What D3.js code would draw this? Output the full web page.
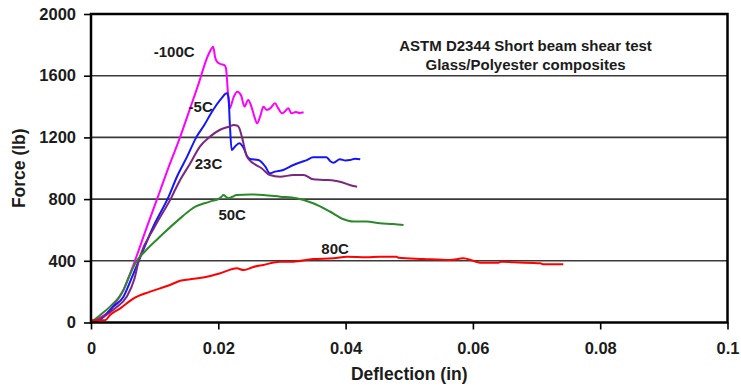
<!DOCTYPE html>
<html>
<head>
<meta charset="utf-8">
<script src="https://cdn.jsdelivr.net/npm/d3@7"></script>
<style>
  html, body { margin: 0; padding: 0; background: #fff; }
  svg { display: block; }
  text { font-family: "Liberation Sans", Arial, sans-serif; font-weight: bold; fill: #1c1c1c; }
</style>
</head>
<body>
<svg id="chart" width="741" height="388"></svg>
<script>
// Force–deflection curves, ASTM D2344 short beam shear, glass/polyester
// Each series: [deflection (in), force (lb)]
const curveM100 = [
  [0,0],[0.0012,27],[0.0025,60],[0.0038,124],[0.0051,211],[0.0069,400],[0.0087,610],
  [0.0109,859],[0.0124,1030],[0.0139,1190],[0.0155,1380],[0.0170,1560],[0.0180,1690],
  [0.0186,1750],[0.0192,1788],[0.0195,1720],[0.0199,1685],[0.0204,1675],[0.0209,1670],
  [0.0212,1650],[0.0215,1500],[0.0218,1389],[0.0224,1460],[0.0230,1496],[0.0236,1470],
  [0.0241,1400],[0.0247,1442],[0.0252,1400],[0.0257,1330],[0.0261,1291],[0.0266,1340],
  [0.0271,1399],[0.0276,1378],[0.0282,1390],[0.0289,1421],[0.0294,1390],[0.0300,1356],
  [0.0305,1370],[0.0310,1389],[0.0315,1356],[0.0322,1365],[0.0328,1358],[0.0334,1363]
];
const curveM5 = [
  [0,0],[0.0015,20],[0.0035,103],[0.0051,167],[0.0062,270],[0.0075,400],[0.0100,640],
  [0.0122,816],[0.0135,945],[0.0151,1075],[0.0166,1205],[0.0178,1280],[0.0187,1345],
  [0.0197,1410],[0.0205,1453],[0.0213,1486],[0.0216,1460],[0.0218,1300],[0.0221,1118],
  [0.0226,1140],[0.0233,1162],[0.0240,1129],[0.0245,1080],[0.0250,1060],[0.0263,1053],
  [0.0274,1010],[0.0281,967],[0.0289,978],[0.0302,989],[0.0318,1021],[0.0330,1040],
  [0.0339,1053],[0.0349,1071],[0.0370,1071],[0.0376,1045],[0.0381,1036],[0.0391,1058],
  [0.0400,1050],[0.0407,1053],[0.0415,1062],[0.0423,1058]
];
const curve23 = [
  [0,0],[0.0020,38],[0.0038,92],[0.0056,167],[0.0068,280],[0.0075,400],[0.0100,620],
  [0.0127,816],[0.0132,859],[0.0140,924],[0.0156,1032],[0.0171,1140],[0.0187,1205],
  [0.0202,1248],[0.0218,1271],[0.0224,1280],[0.0230,1276],[0.0233,1260],[0.0237,1205],
  [0.0245,1075],[0.0255,1032],[0.0268,1000],[0.0281,956],[0.0297,945],[0.0318,956],
  [0.0334,956],[0.0349,928],[0.0370,924],[0.0391,913],[0.0412,885],[0.0418,880]
];
const curve50 = [
  [0,0],[0.00145,49],[0.0030,103],[0.0051,211],[0.0060,300],[0.0072,400],[0.0085,462],
  [0.0103,535],[0.0114,578],[0.0140,675],[0.0156,729],[0.0164,751],[0.0180,775],
  [0.0192,790],[0.0200,800],[0.0205,815],[0.0208,827],[0.0212,815],[0.0216,805],
  [0.0222,815],[0.0229,827],[0.0250,830],[0.0271,827],[0.0297,816],[0.0323,805],
  [0.0349,773],[0.0376,718],[0.0397,669],[0.0412,654],[0.0433,654],[0.0454,643],
  [0.0475,639],[0.0491,632]
];
const curve80 = [
  [0,15],[0.0022,15],[0.0030,49],[0.0046,92],[0.0067,157],[0.0093,200],[0.0124,243],
  [0.0140,271],[0.0156,280],[0.0182,297],[0.0203,319],[0.0229,351],[0.0240,340],
  [0.0255,360],[0.0271,373],[0.0297,394],[0.0318,394],[0.0349,412],[0.0381,416],
  [0.0402,427],[0.0433,423],[0.0454,427],[0.0480,427],[0.0483,420],[0.0522,412],
  [0.0564,405],[0.0585,416],[0.0600,400],[0.0611,388],[0.0640,388],[0.0645,394],
  [0.0664,390],[0.0706,384],[0.0711,377],[0.0742,377]
];

const seriesNames  = ["-100C", "-5C", "23C", "50C", "80C"];
const seriesData   = [curveM100, curveM5, curve23, curve50, curve80];
const seriesColors = ["#ff00ff", "#1414ff", "#7b267f", "#2a8a2a", "#ff0000"];
// Label anchor points [deflection, force]
const labelPos     = [[0.01307,1756],[0.01723,1399],[0.01846,1032],[0.02218,701],[0.03835,476]];

const xTicks = [0, 0.02, 0.04, 0.06, 0.08, 0.1];
const xTickLabels = ["0", "0.02", "0.04", "0.06", "0.08", "0.1"];
const yTicks = [0, 400, 800, 1200, 1600, 2000];
const yTickLabels = ["0", "400", "800", "1200", "1600", "2000"];
const yGrid  = [400, 800, 1200, 1600];
const titleLines = ["ASTM D2344 Short beam shear test", "Glass/Polyester composites"];

const svg = d3.select("#chart");
const plot = { left: 91, right: 727.5, top: 14, bottom: 322.5 };

const x = d3.scaleLinear().domain([0, 0.1]).range([plot.left, plot.right]);
const y = d3.scaleLinear().domain([0, 2000]).range([plot.bottom, plot.top]);

svg.append("rect").attr("width", 741).attr("height", 388).attr("fill", "#fff");

// horizontal gridlines
svg.append("g").selectAll("line").data(yGrid).join("line")
  .attr("x1", plot.left).attr("x2", plot.right)
  .attr("y1", d => y(d)).attr("y2", d => y(d))
  .attr("stroke", "#3a3a3a").attr("stroke-width", 1.6);

// curves
const line = d3.line().x(d => x(d[0])).y(d => y(d[1])).curve(d3.curveMonotoneX);
svg.append("g").selectAll("path").data(seriesData).join("path")
  .attr("d", line)
  .attr("fill", "none")
  .attr("stroke", (d, i) => seriesColors[i])
  .attr("stroke-width", 2)
  .attr("stroke-linejoin", "round");

// plot frame
svg.append("rect")
  .attr("x", plot.left).attr("y", plot.top)
  .attr("width", plot.right - plot.left).attr("height", plot.bottom - plot.top)
  .attr("fill", "none").attr("stroke", "#000").attr("stroke-width", 2.5);

// axes
const yAxis = svg.append("g").attr("transform", `translate(${plot.left},0)`)
  .call(d3.axisLeft(y).tickValues(yTicks).tickFormat((d, i) => yTickLabels[i])
    .tickSize(7).tickSizeOuter(0).tickPadding(8));
const xAxis = svg.append("g").attr("transform", `translate(0,${plot.bottom})`)
  .call(d3.axisBottom(x).tickValues(xTicks).tickFormat((d, i) => xTickLabels[i])
    .tickSize(7).tickSizeOuter(0).tickPadding(13));
[yAxis, xAxis].forEach(g => {
  g.select(".domain").remove();
  g.selectAll(".tick line").attr("stroke", "#000").attr("stroke-width", 1.6);
  g.selectAll(".tick text").attr("font-size", 16.5)
    .attr("font-family", "'Liberation Sans', Arial, sans-serif")
    .attr("font-weight", "bold").attr("fill", "#1c1c1c");
});

// axis titles
svg.append("text")
  .attr("x", (plot.left + plot.right) / 2).attr("y", 374)
  .attr("text-anchor", "middle").attr("dy", "0.35em")
  .attr("font-size", 17.5).text("Deflection (in)");
svg.append("text")
  .attr("transform", `translate(19,${(plot.top + plot.bottom) / 2}) rotate(-90)`)
  .attr("text-anchor", "middle").attr("dy", "0.35em")
  .attr("font-size", 17.5).text("Force (lb)");

// chart title inside plot
svg.append("g").selectAll("text").data(titleLines).join("text")
  .attr("x", x(0.06827))
  .attr("y", (d, i) => i === 0 ? y(1794) : y(1669))
  .attr("text-anchor", "middle").attr("dy", "0.35em")
  .attr("font-size", 15).text(d => d);

// series labels
svg.append("g").selectAll("text").data(seriesNames).join("text")
  .attr("x", (d, i) => x(labelPos[i][0]))
  .attr("y", (d, i) => y(labelPos[i][1]))
  .attr("text-anchor", "middle").attr("dy", "0.35em")
  .attr("font-size", 15).text(d => d);
</script>
</body>
</html>
